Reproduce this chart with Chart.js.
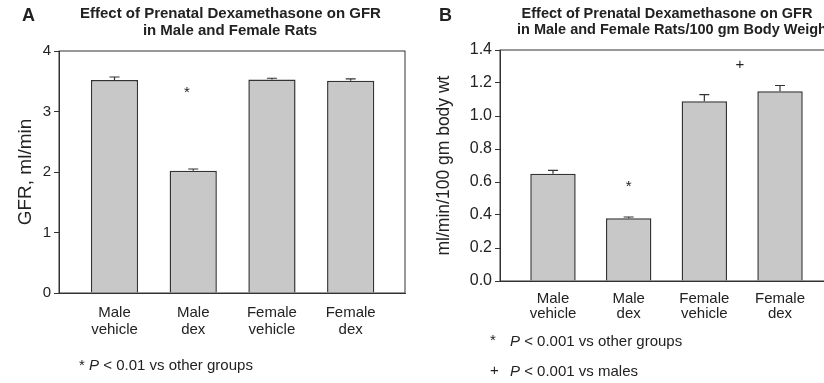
<!DOCTYPE html>
<html>
<head>
<meta charset="utf-8">
<script src="https://cdn.jsdelivr.net/npm/chart.js@4.4.1/dist/chart.umd.min.js"></script>
<style>
  html, body { margin: 0; padding: 0; background: #fff; overflow: hidden; }
  body { width: 824px; height: 383px; position: relative; font-family: "Liberation Sans", Arial, sans-serif; color: #222; }
  .panel { position: absolute; top: 0; height: 383px; }
  .letter { position: absolute; font-weight: bold; font-size: 18px; }
  .title { position: absolute; font-weight: bold; text-align: center; white-space: nowrap; }
  .note { position: absolute; font-size: 15px; white-space: nowrap; }
  .note i { font-style: italic; }
</style>
</head>
<body>
<div class="panel" style="left:0;width:412px"><canvas id="chartA"></canvas></div>
<div class="panel" style="left:412px;width:430px"><canvas id="chartB"></canvas></div>

<div class="letter" style="left:22px;top:5px">A</div>
<div class="letter" style="left:439px;top:5px">B</div>
<div class="title" style="left:80px;width:300px;top:4px;font-size:15px;line-height:17px">Effect of Prenatal Dexamethasone on GFR<br>in Male and Female Rats</div>
<div class="title" style="left:517px;width:300px;top:5px;font-size:14.5px;line-height:16px">Effect of Prenatal Dexamethasone on GFR<br>in Male and Female Rats/100 gm Body Weight</div>

<div class="note" style="left:79px;top:356px">* <i>P</i> &lt; 0.01 vs other groups</div>
<div class="note" style="left:490px;top:331px">*</div>
<div class="note" style="left:510px;top:332px"><i>P</i> &lt; 0.001 vs other groups</div>
<div class="note" style="left:490px;top:361px">+</div>
<div class="note" style="left:510px;top:362px"><i>P</i> &lt; 0.001 vs males</div>

<script>
const categories = [['Male', 'vehicle'], ['Male', 'dex'], ['Female', 'vehicle'], ['Female', 'dex']];

// panel A: GFR, ml/min
const gfrValues = [3.52, 2.02, 3.53, 3.51];
const gfrErrors = [0.05, 0.03, 0.02, 0.03];
const gfrTicks = [0, 1, 2, 3, 4];
const gfrMarks = [{ x: 1.92, y: 3.3, text: '*' }];

// panel B: ml/min/100 gm body wt
const bwValues = [0.65, 0.38, 1.09, 1.15];
const bwErrors = [0.02, 0.008, 0.04, 0.035];
const bwTicks = [0, 0.2, 0.4, 0.6, 0.8, 1.0, 1.2, 1.4];
const bwMarks = [{ x: 2.0, y: 0.57, text: '*' }, { x: 3.47, y: 1.31, text: '+' }];

const ink = '#333';
const fontName = '"Liberation Sans", Arial, sans-serif';

const extrasPlugin = {
    id: 'extras',
    afterDatasetsDraw(chart, args, opts) {
        const ctx = chart.ctx;
        const ys = chart.scales.y;
        const xs = chart.scales.x;
        const meta = chart.getDatasetMeta(0);
        ctx.save();
        ctx.strokeStyle = ink;
        ctx.lineWidth = 1.2;
        meta.data.forEach((bar, i) => {
            const top = ys.getPixelForValue(opts.values[i]);
            const end = ys.getPixelForValue(opts.values[i] + opts.errors[i]);
            ctx.beginPath();
            ctx.moveTo(bar.x, top);
            ctx.lineTo(bar.x, end);
            ctx.moveTo(bar.x - 5, end);
            ctx.lineTo(bar.x + 5, end);
            ctx.stroke();
        });
        ctx.fillStyle = '#222';
        ctx.textAlign = 'center';
        ctx.textBaseline = 'middle';
        ctx.font = '15px ' + fontName;
        opts.marks.forEach(m => {
            ctx.fillText(m.text, xs.getPixelForValue(m.x), ys.getPixelForValue(m.y));
        });
        // frame round the plot
        const a = chart.chartArea;
        ctx.lineWidth = 1;
        ctx.strokeRect(a.left, a.top, a.right - a.left, a.bottom - a.top);
        ctx.restore();
    }
};

function makeChart(id, cfg) {
    return new Chart(document.getElementById(id), {
        type: 'bar',
        data: {
            datasets: [{
                data: cfg.values.map((v, i) => ({ x: i + 1, y: v })),
                backgroundColor: '#c8c8c8',
                borderColor: ink,
                borderWidth: 1.5,
                barPercentage: 0.6,
                categoryPercentage: 1
            }]
        },
        options: {
            responsive: true,
            maintainAspectRatio: false,
            animation: false,
            layout: { padding: cfg.padding },
            plugins: {
                legend: { display: false },
                tooltip: { enabled: false },
                extras: { values: cfg.values, errors: cfg.errors, marks: cfg.marks }
            },
            scales: {
                x: {
                    type: 'linear',
                    offset: false,
                    min: cfg.xMin,
                    max: cfg.xMax,
                    afterBuildTicks: s => { s.ticks = categories.map((c, i) => ({ value: i + 1 })); },
                    afterFit: s => { s.height = 45; },
                    grid: { display: false, offset: false },
                    border: { display: true, color: ink },
                    ticks: {
                        color: '#222',
                        padding: cfg.catPad,
                        maxRotation: 0,
                        autoSkip: false,
                        font: { family: fontName, size: 15, lineHeight: cfg.catLine },
                        callback: v => categories[v - 1]
                    }
                },
                y: {
                    min: 0,
                    max: cfg.yMax,
                    afterBuildTicks: s => { s.ticks = cfg.ticks.map(t => ({ value: t })); },
                    afterFit: s => { s.width = cfg.yWidth; },
                    grid: { display: true, drawOnChartArea: false, drawTicks: true, tickLength: 5, color: ink },
                    border: { display: true, color: ink },
                    ticks: {
                        color: '#222',
                        padding: 3,
                        font: { family: fontName, size: cfg.tickSize },
                        callback: cfg.tickFmt
                    },
                    title: {
                        display: true,
                        text: cfg.yTitle,
                        color: '#222',
                        padding: { top: cfg.titlePad, bottom: 0 },
                        font: { family: fontName, size: cfg.titleSize, lineHeight: 1.2 }
                    }
                }
            }
        },
        plugins: [extrasPlugin]
    });
}

makeChart('chartA', {
    values: gfrValues, errors: gfrErrors, ticks: gfrTicks, marks: gfrMarks,
    yTitle: 'GFR, ml/min', yWidth: 59, xMin: 0.295, xMax: 4.69, yMax: 4,
    padding: { top: 51, right: 7, bottom: 45, left: 0 },
    tickSize: 15, titleSize: 19, titlePad: 14, catPad: 4, catLine: 1.1,
    tickFmt: v => String(v)
});
makeChart('chartB', {
    values: bwValues, errors: bwErrors, ticks: bwTicks, marks: bwMarks,
    yTitle: 'ml/min/100 gm body wt', yWidth: 88, xMin: 0.30, xMax: 4.70, yMax: 1.4,
    padding: { top: 50, right: 9, bottom: 57, left: 0 },
    tickSize: 16, titleSize: 17.5, titlePad: 22, catPad: 2, catLine: 1.0,
    tickFmt: v => v.toFixed(1)
});
</script>
</body>
</html>
